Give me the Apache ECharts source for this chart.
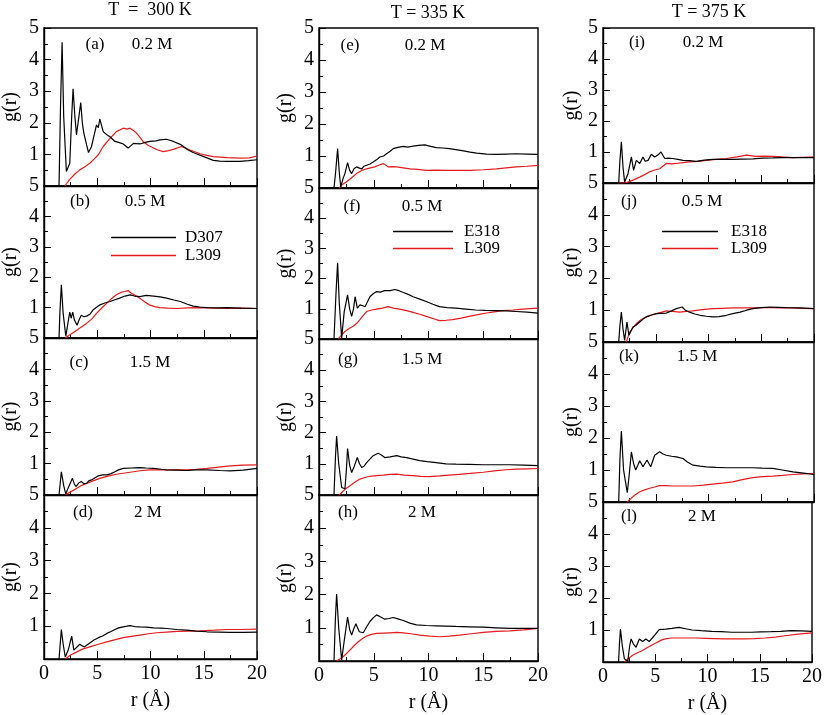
<!DOCTYPE html>
<html>
<head>
<meta charset="utf-8">
<script src="https://cdn.jsdelivr.net/npm/echarts@6/dist/echarts.min.js"></script>
<style>html,body{margin:0;padding:0;background:#fff;}#c{width:825px;height:715px;}</style>
</head>
<body>
<div id="c"></div>
<script>
// ---------- tick labels ----------
const rTicks = [0, 5, 10, 15, 20];
const gTicks = [1, 2, 3, 4, 5];
const temps = ['T  =  300 K', 'T = 335 K', 'T = 375 K'];
const panelTags = ['(a)','(b)','(c)','(d)','(e)','(f)','(g)','(h)','(i)','(j)','(k)','(l)'];
const concs = ['0.2 M', '0.5 M', '1.5 M', '2 M'];
const col1Names = ['D307', 'L309'];
const col23Names = ['E318', 'L309'];

// ---------- data: [r (Å), g(r)] ----------
const a_black = [[1.41,0],[1.55,2.5],[1.70,4.55],[1.85,2.2],[2.1,0.46],[2.42,0.72],[2.6,2.2],[2.73,3.08],[2.9,2.2],[3.05,1.62],[3.2,1.56],[3.45,2.64],[3.6,2.0],[3.74,1.67],[4.0,1.3],[4.18,1.06],[4.46,1.25],[4.7,1.6],[4.93,1.93],[5.1,1.85],[5.24,2.12],[5.56,1.72],[5.9,1.62],[6.19,1.56],[6.66,1.41],[7.0,1.38],[7.44,1.33],[7.9,1.2],[8.4,1.35],[9.0,1.33],[9.5,1.38],[9.95,1.41],[10.5,1.43],[10.9,1.46],[11.5,1.48],[12.15,1.41],[12.9,1.3],[13.5,1.15],[14.0,1.06],[15.0,0.93],[15.9,0.81],[16.5,0.79],[17.2,0.78],[18.4,0.78],[19.2,0.8],[20,0.83]];
const a_red = [[1.95,0],[2.4,0.2],[2.9,0.38],[3.36,0.51],[3.8,0.6],[4.3,0.72],[4.7,0.85],[5.1,0.99],[5.56,1.25],[6.2,1.51],[6.8,1.72],[7.44,1.83],[7.8,1.8],[8.07,1.83],[8.4,1.76],[8.7,1.67],[9.3,1.41],[9.8,1.28],[10.3,1.2],[10.7,1.14],[11.2,1.09],[11.7,1.12],[12.15,1.16],[12.9,1.25],[13.3,1.2],[13.7,1.14],[14.66,1.02],[15.3,0.97],[15.9,0.93],[17.2,0.9],[18.4,0.88],[19.3,0.89],[20,0.95]];
const b_black = [[1.41,0],[1.5,0.9],[1.63,1.75],[1.8,0.8],[2.05,0.06],[2.25,0.5],[2.42,0.85],[2.55,0.65],[2.7,0.85],[2.85,0.6],[3.1,0.42],[3.3,0.6],[3.5,0.75],[3.75,0.7],[4.0,0.72],[4.3,0.78],[4.6,0.92],[4.9,1.0],[5.2,1.08],[5.7,1.15],[6.2,1.2],[6.6,1.25],[7.1,1.31],[7.6,1.38],[8.1,1.42],[8.5,1.38],[9.0,1.36],[9.6,1.4],[10.3,1.38],[10.9,1.35],[11.5,1.31],[12.2,1.25],[12.8,1.2],[13.4,1.12],[14.0,1.05],[14.6,1.02],[15.3,1.0],[16.2,0.99],[17.2,1.0],[18.5,0.98],[20,0.97]];
const b_red = [[2.0,0],[2.4,0.1],[3.05,0.25],[3.5,0.36],[4.0,0.48],[4.5,0.63],[4.93,0.81],[5.4,0.98],[5.87,1.14],[6.3,1.28],[6.8,1.42],[7.2,1.5],[7.6,1.53],[7.9,1.56],[8.2,1.47],[8.6,1.4],[9.0,1.31],[9.5,1.18],[9.95,1.08],[10.4,1.03],[10.9,1.0],[11.6,0.98],[12.5,0.97],[13.5,0.99],[14.7,1.0],[16.0,0.98],[17.2,0.97],[18.6,0.98],[20,0.97]];
const c_black = [[1.41,0],[1.63,0.74],[1.85,0.3],[2.05,0.03],[2.3,0.25],[2.67,0.53],[2.85,0.35],[3.0,0.27],[3.25,0.38],[3.5,0.43],[3.75,0.36],[4.0,0.37],[4.2,0.45],[4.46,0.48],[4.8,0.55],[5.1,0.61],[5.5,0.64],[5.9,0.64],[6.3,0.68],[6.66,0.74],[7.0,0.8],[7.44,0.85],[8.2,0.86],[9.0,0.87],[9.6,0.86],[10.3,0.85],[11.0,0.82],[11.5,0.8],[12.5,0.79],[13.4,0.78],[14.3,0.8],[15.3,0.8],[16.5,0.78],[17.5,0.77],[18.7,0.79],[20,0.85]];
const c_red = [[2.0,0],[2.5,0.1],[3.05,0.21],[3.5,0.3],[4.0,0.37],[4.6,0.45],[5.24,0.53],[6.0,0.6],[6.8,0.66],[7.6,0.7],[8.4,0.74],[9.2,0.78],[9.95,0.8],[10.8,0.8],[11.5,0.8],[12.5,0.8],[13.4,0.8],[14.3,0.82],[15.3,0.85],[16.4,0.89],[17.5,0.93],[18.7,0.95],[20,0.96]];
const d_black = [[1.41,0],[1.63,0.9],[1.8,0.45],[2.0,0.06],[2.3,0.3],[2.6,0.7],[2.8,0.27],[3.05,0.35],[3.36,0.45],[3.6,0.4],[3.8,0.37],[4.0,0.42],[4.3,0.49],[4.7,0.58],[5.1,0.65],[5.5,0.7],[5.9,0.78],[6.3,0.84],[6.66,0.9],[7.0,0.95],[7.44,0.98],[7.8,1.0],[8.07,1.02],[8.5,0.99],[9.0,0.98],[9.6,0.97],[10.3,0.95],[11.0,0.94],[11.5,0.93],[12.5,0.9],[13.4,0.88],[14.3,0.85],[15.3,0.83],[16.4,0.82],[17.5,0.81],[18.7,0.81],[20,0.82]];
const d_red = [[2.0,0],[2.5,0.12],[3.05,0.21],[3.6,0.3],[4.3,0.37],[5.1,0.45],[5.9,0.52],[6.7,0.59],[7.44,0.65],[8.2,0.69],[9.0,0.73],[9.8,0.77],[10.6,0.8],[11.5,0.82],[12.5,0.84],[13.6,0.85],[14.7,0.86],[16.0,0.88],[17.2,0.9],[18.5,0.9],[20,0.91]];
const e_black = [[1.37,0],[1.52,0.5],[1.7,1.23],[1.85,0.5],[1.98,0.03],[2.2,0.3],[2.37,0.45],[2.61,0.79],[2.8,0.55],[2.98,0.45],[3.2,0.6],[3.43,0.66],[3.7,0.62],[3.9,0.6],[4.1,0.68],[4.35,0.71],[4.65,0.75],[4.95,0.81],[5.25,0.88],[5.56,0.97],[5.9,1.0],[6.17,1.07],[6.5,1.15],[6.78,1.23],[7.2,1.27],[7.7,1.3],[8.1,1.28],[8.6,1.31],[9.1,1.33],[9.67,1.35],[10.2,1.3],[10.7,1.26],[11.3,1.25],[11.9,1.23],[12.5,1.2],[13.2,1.16],[13.8,1.12],[14.4,1.09],[15.3,1.06],[16.2,1.05],[17.1,1.06],[18.0,1.07],[19.0,1.06],[20,1.05]];
const e_red = [[1.85,0],[2.1,0.1],[2.5,0.19],[3.0,0.33],[3.43,0.45],[3.9,0.55],[4.35,0.6],[4.7,0.63],[5.1,0.66],[5.5,0.72],[5.87,0.76],[6.1,0.72],[6.3,0.66],[6.7,0.67],[7.1,0.66],[7.7,0.63],[8.3,0.6],[9.0,0.58],[9.8,0.55],[10.7,0.56],[11.6,0.55],[12.7,0.55],[13.8,0.55],[15.0,0.57],[16.2,0.6],[17.1,0.63],[18.0,0.66],[19.0,0.68],[20,0.71]];
const f_black = [[1.37,0],[1.55,1.5],[1.7,2.52],[1.85,1.2],[2.07,0.03],[2.3,0.9],[2.61,1.46],[2.8,1.0],[2.98,0.75],[3.15,1.0],[3.3,1.4],[3.5,1.02],[3.74,1.13],[4.0,1.1],[4.2,1.07],[4.45,1.25],[4.65,1.4],[4.95,1.5],[5.26,1.57],[5.6,1.55],[6.0,1.6],[6.5,1.6],[6.93,1.64],[7.3,1.6],[7.7,1.54],[8.2,1.47],[8.6,1.4],[9.2,1.32],[9.8,1.24],[10.4,1.15],[11.0,1.07],[11.7,1.04],[12.5,1.02],[13.4,0.99],[14.3,0.96],[15.2,0.95],[16.2,0.94],[17.1,0.93],[18.0,0.91],[19.0,0.89],[20,0.86]];
const f_red = [[1.76,0],[2.0,0.1],[2.37,0.25],[2.75,0.35],[3.13,0.42],[3.45,0.52],[3.74,0.64],[4.05,0.78],[4.35,0.91],[4.8,0.96],[5.26,0.99],[5.8,1.02],[6.3,1.07],[6.8,1.02],[7.35,0.99],[8.0,0.94],[8.6,0.88],[9.2,0.82],[9.8,0.75],[10.4,0.68],[11.0,0.61],[11.6,0.62],[12.2,0.64],[13.0,0.69],[13.7,0.75],[14.5,0.81],[15.3,0.86],[16.0,0.9],[16.8,0.94],[17.7,0.96],[18.6,0.99],[20,1.02]];
const g_black = [[1.37,0],[1.5,1.2],[1.61,1.89],[1.8,1.0],[2.07,0.24],[2.37,0.2],[2.5,0.8],[2.61,1.49],[2.8,0.95],[2.98,0.72],[3.2,0.9],[3.5,1.2],[3.7,1.0],[3.9,0.88],[4.1,0.92],[4.35,1.04],[4.65,1.15],[4.95,1.26],[5.4,1.34],[5.7,1.28],[6.0,1.2],[6.5,1.22],[7.1,1.26],[7.5,1.22],[8.0,1.2],[8.6,1.15],[9.2,1.1],[9.9,1.07],[10.7,1.04],[11.6,1.0],[12.5,0.99],[13.7,0.98],[15.0,0.97],[16.2,0.97],[17.4,0.97],[18.7,0.96],[20,0.94]];
const g_red = [[1.85,0],[2.2,0.12],[2.5,0.22],[2.83,0.3],[3.3,0.42],[3.74,0.51],[4.2,0.56],[4.65,0.6],[5.2,0.62],[5.87,0.64],[6.5,0.66],[7.1,0.67],[7.8,0.64],[8.6,0.62],[9.3,0.6],[10.1,0.59],[11.0,0.61],[11.9,0.64],[12.8,0.66],[13.8,0.69],[15.0,0.73],[16.2,0.78],[17.1,0.81],[18.0,0.83],[19.0,0.84],[20,0.85]];
const h_black = [[1.37,0],[1.5,1.3],[1.61,2.02],[1.8,1.0],[2.07,0.03],[2.3,0.6],[2.61,1.32],[2.8,0.95],[2.98,0.78],[3.15,0.95],[3.37,1.12],[3.68,0.88],[4.04,0.85],[4.3,1.0],[4.65,1.19],[4.95,1.3],[5.26,1.39],[5.6,1.33],[6.0,1.26],[6.4,1.28],[6.78,1.31],[7.2,1.27],[7.7,1.22],[8.3,1.14],[8.9,1.09],[9.8,1.07],[10.7,1.06],[11.6,1.05],[12.5,1.04],[13.7,1.03],[15.0,1.02],[16.2,1.0],[17.4,0.98],[18.7,0.98],[20,0.98]];
const h_red = [[1.61,0],[1.9,0.06],[2.2,0.13],[2.5,0.22],[2.83,0.33],[3.2,0.46],[3.59,0.58],[3.95,0.67],[4.35,0.75],[4.8,0.8],[5.26,0.83],[5.9,0.84],[6.5,0.85],[7.1,0.86],[7.7,0.85],[8.4,0.82],[9.2,0.78],[10.1,0.75],[11.0,0.73],[11.9,0.75],[12.8,0.78],[13.9,0.82],[15.0,0.86],[16.2,0.89],[17.4,0.91],[18.7,0.94],[20,0.98]];
const i_black = [[1.49,0],[1.6,0.7],[1.74,1.33],[1.9,0.5],[2.05,0.03],[2.37,0.3],[2.55,0.6],[2.69,0.84],[2.9,0.41],[3.16,0.73],[3.48,0.63],[3.79,0.84],[4.0,0.7],[4.27,0.73],[4.58,0.93],[4.9,0.84],[5.2,0.9],[5.5,1.0],[5.85,0.79],[6.2,0.8],[6.6,0.79],[7.1,0.76],[7.58,0.73],[8.2,0.72],[8.85,0.7],[9.6,0.74],[10.4,0.76],[11.4,0.76],[12.3,0.76],[13.2,0.77],[14.2,0.78],[15.1,0.8],[16.1,0.81],[17.0,0.82],[18.0,0.82],[19.0,0.82],[20,0.82]];
const i_red = [[1.42,0],[2.0,0.0],[2.37,0.03],[2.9,0.1],[3.48,0.19],[3.95,0.27],[4.42,0.36],[4.9,0.42],[5.37,0.46],[5.7,0.55],[6.0,0.63],[6.5,0.62],[6.95,0.63],[7.6,0.66],[8.2,0.68],[9.0,0.7],[9.8,0.73],[10.7,0.76],[11.7,0.79],[12.7,0.84],[13.6,0.9],[14.5,0.86],[15.3,0.87],[16.1,0.86],[17.0,0.84],[18.0,0.82],[19.0,0.83],[20,0.84]];
const j_black = [[1.49,0],[1.6,0.5],[1.74,0.94],[1.9,0.4],[2.05,0.05],[2.27,0.63],[2.46,0.21],[2.84,0.47],[3.1,0.52],[3.48,0.63],[3.8,0.72],[4.1,0.79],[4.6,0.85],[5.05,0.89],[5.5,0.9],[6.0,0.91],[6.5,0.98],[6.95,1.05],[7.5,1.1],[7.8,1.0],[8.2,0.94],[8.7,0.88],[9.2,0.84],[9.8,0.81],[10.4,0.79],[11.0,0.8],[11.7,0.84],[12.3,0.89],[13.0,0.94],[13.6,1.0],[14.2,1.05],[15.0,1.08],[15.8,1.1],[16.6,1.09],[17.4,1.08],[18.6,1.07],[20,1.05]];
const j_red = [[2.2,0],[2.53,0.31],[2.85,0.45],[3.16,0.58],[3.6,0.7],[4.1,0.79],[4.6,0.85],[5.05,0.89],[5.5,0.93],[6.0,0.98],[6.6,0.96],[7.27,0.94],[7.9,0.96],[8.5,0.98],[9.4,1.02],[10.4,1.05],[11.3,1.06],[12.3,1.07],[13.2,1.07],[14.2,1.07],[15.1,1.08],[16.1,1.08],[17.0,1.07],[18.0,1.07],[19.0,1.06],[20,1.05]];
const k_black = [[1.49,0],[1.6,1.3],[1.74,2.22],[1.95,1.0],[2.3,0.29],[2.5,0.9],[2.69,1.57],[2.9,1.2],[3.1,1.0],[3.3,1.15],[3.48,1.29],[3.79,1.1],[4.17,1.31],[4.52,1.1],[4.9,1.46],[5.37,1.57],[5.7,1.5],[6.0,1.46],[6.5,1.43],[6.95,1.41],[7.58,1.36],[8.0,1.25],[8.53,1.15],[9.2,1.12],[9.8,1.1],[10.7,1.08],[11.7,1.07],[12.9,1.07],[14.2,1.07],[15.1,1.06],[16.1,1.05],[17.0,1.0],[18.0,0.94],[19.0,0.9],[20,0.86]];
const k_red = [[2.3,0],[2.84,0.17],[3.2,0.26],[3.48,0.32],[3.95,0.38],[4.42,0.43],[4.9,0.47],[5.37,0.51],[6.0,0.51],[6.6,0.5],[7.5,0.5],[8.53,0.5],[9.5,0.53],[10.4,0.56],[11.3,0.59],[12.3,0.63],[13.2,0.7],[14.2,0.76],[15.1,0.79],[16.1,0.81],[17.0,0.83],[18.0,0.86],[19.0,0.88],[20,0.89]];
const l_black = [[1.49,0],[1.58,0.6],[1.67,1.03],[1.85,0.5],[2.05,0.1],[2.37,0.02],[2.55,0.5],[2.69,0.72],[2.9,0.57],[3.16,0.46],[3.48,0.72],[3.79,0.64],[4.1,0.72],[4.42,0.64],[4.9,0.82],[5.37,1.01],[6.0,1.03],[6.6,1.05],[7.27,1.08],[7.9,1.04],[8.53,1.0],[9.4,0.98],[10.4,0.96],[11.3,0.95],[12.3,0.93],[13.2,0.93],[14.2,0.93],[15.1,0.94],[16.1,0.95],[17.0,0.96],[18.0,0.98],[19.0,0.97],[20,0.96]];
const l_red = [[2.05,0],[2.4,0.1],[2.84,0.21],[3.3,0.29],[3.79,0.36],[4.25,0.45],[4.74,0.54],[5.2,0.62],[5.69,0.7],[6.1,0.73],[6.6,0.75],[7.4,0.75],[8.2,0.75],[9.0,0.75],[9.8,0.74],[10.7,0.73],[11.7,0.72],[12.6,0.72],[13.6,0.72],[14.5,0.73],[15.5,0.75],[16.5,0.78],[17.4,0.82],[18.7,0.87],[20,0.91]];

const blackSets = [a_black,b_black,c_black,d_black,e_black,f_black,g_black,h_black,i_black,j_black,k_black,l_black];
const redSets = [a_red,b_red,c_red,d_red,e_red,f_red,g_red,h_red,i_red,j_red,k_red,l_red];

// ---------- layout ----------
const FONT = 'Liberation Serif';
const cols = [
  {left: 44, width: 213, tops: [28, 186, 338, 495], bottom: 659, nameGap: 23, tx: 150, ty: 10},
  {left: 319, width: 219, tops: [28, 188, 339, 495], bottom: 661, nameGap: 23, tx: 428, ty: 13},
  {left: 603, width: 211, tops: [28, 183, 342, 502], bottom: 663, nameGap: 21, tx: 709, ty: 12}
];
const tagPos = [
  [[95,45],[152,45]], [[80,202],[145,202]], [[79,363],[150,363]], [[83,513],[148,513]],
  [[350,46],[425,46]], [[352,207],[422,207]], [[348,360],[422,360]], [[348,513],[422,513]],
  [[637,43],[703,43]], [[629,202],[702,202]], [[629,357],[697,357]], [[629,517],[702,517]]
];

const grids = [], xAxes = [], yAxes = [], series = [], graphics = [];
cols.forEach((c, ci) => {
  for (let ri = 0; ri < 4; ri++) {
    const idx = ci * 4 + ri;
    const top = c.tops[ri];
    const bot = ri < 3 ? c.tops[ri + 1] : c.bottom;
    grids.push({left: c.left, top: top, width: c.width, height: bot - top,
      show: true, borderColor: '#000', borderWidth: 1.4, backgroundColor: 'transparent'});
    const isBottom = ri === 3;
    xAxes.push({
      gridIndex: idx, type: 'value', min: rTicks[0], max: rTicks[rTicks.length - 1], interval: 5,
      axisLine: {show: true, lineStyle: {color: '#000', width: 1.4}},
      axisTick: {show: true, inside: true, length: 8, lineStyle: {color: '#000', width: 1}},
      minorTick: {show: true, splitNumber: 2, length: 4, lineStyle: {color: '#000', width: 1}},
      splitLine: {show: false},
      axisLabel: {show: isBottom, color: '#000', fontFamily: FONT, fontSize: 20, margin: 5,
        formatter: v => rTicks.includes(v) ? String(v) : ''},
      name: isBottom ? 'r (Å)' : '', nameLocation: 'middle', nameGap: 32,
      nameTextStyle: {color: '#000', fontFamily: FONT, fontSize: 20}
    });
    yAxes.push({
      gridIndex: idx, type: 'value', min: 0, max: 5, interval: 1,
      axisLine: {show: true, lineStyle: {color: '#000', width: 1.4}},
      axisTick: {show: true, inside: true, length: 7, lineStyle: {color: '#000', width: 1}},
      minorTick: {show: true, splitNumber: 2, length: 4, lineStyle: {color: '#000', width: 1}},
      splitLine: {show: false},
      axisLabel: {color: '#000', fontFamily: FONT, fontSize: 20, margin: 5,
        formatter: v => gTicks.includes(v) ? String(v) : ''},
      name: 'g(r)', nameLocation: 'middle', nameGap: c.nameGap, nameRotate: 90,
      nameTextStyle: {color: '#000', fontFamily: FONT, fontSize: 20}
    });
    const names = ci === 0 ? col1Names : col23Names;
    series.push({type: 'line', name: names[0], xAxisIndex: idx, yAxisIndex: idx, data: blackSets[idx],
      showSymbol: false, symbol: 'none', lineStyle: {color: '#000', width: 1.2}, itemStyle: {color: '#000'},
      animation: false, silent: true, z: 3});
    series.push({type: 'line', name: names[1], xAxisIndex: idx, yAxisIndex: idx, data: redSets[idx],
      showSymbol: false, symbol: 'none', lineStyle: {color: '#e41a1c', width: 1.2}, itemStyle: {color: '#e41a1c'},
      animation: false, silent: true, z: 2});
    const conc = concs[ri];
    graphics.push({type: 'text', x: tagPos[idx][0][0], y: tagPos[idx][0][1],
      style: {text: panelTags[idx], font: '17px "' + FONT + '"', fill: '#000', textAlign: 'center', textVerticalAlign: 'middle'}});
    graphics.push({type: 'text', x: tagPos[idx][1][0], y: tagPos[idx][1][1],
      style: {text: conc, font: '17px "' + FONT + '"', fill: '#000', textAlign: 'center', textVerticalAlign: 'middle'}});
  }
  graphics.push({type: 'text', x: c.tx, y: c.ty,
    style: {text: temps[ci], font: '18px "' + FONT + '"', fill: '#000', textAlign: 'center', textVerticalAlign: 'middle'}});
});

const legendBase = {orient: 'vertical', icon: 'rect', itemHeight: 1.5, selectedMode: false, padding: 0,
  textStyle: {color: '#000', fontFamily: FONT, fontSize: 17, lineHeight: 17}};
const legends = [
  Object.assign({}, legendBase, {left: 111, top: 229, itemWidth: 65, itemGap: 1, data: col1Names,
    textStyle: Object.assign({}, legendBase.textStyle, {padding: [0,0,0,4]})}),
  Object.assign({}, legendBase, {left: 393, top: 223, itemWidth: 60, itemGap: 0, data: col23Names,
    textStyle: Object.assign({}, legendBase.textStyle, {padding: [0,0,0,6]})}),
  Object.assign({}, legendBase, {left: 662, top: 223, itemWidth: 56, itemGap: 0, data: col23Names,
    textStyle: Object.assign({}, legendBase.textStyle, {padding: [0,0,0,8]})})
];

const chart = echarts.init(document.getElementById('c'), null, {renderer: 'canvas'});
chart.setOption({
  animation: false,
  backgroundColor: '#fff',
  grid: grids, xAxis: xAxes, yAxis: yAxes, series: series,
  legend: legends,
  graphic: graphics
});
</script>
</body>
</html>
